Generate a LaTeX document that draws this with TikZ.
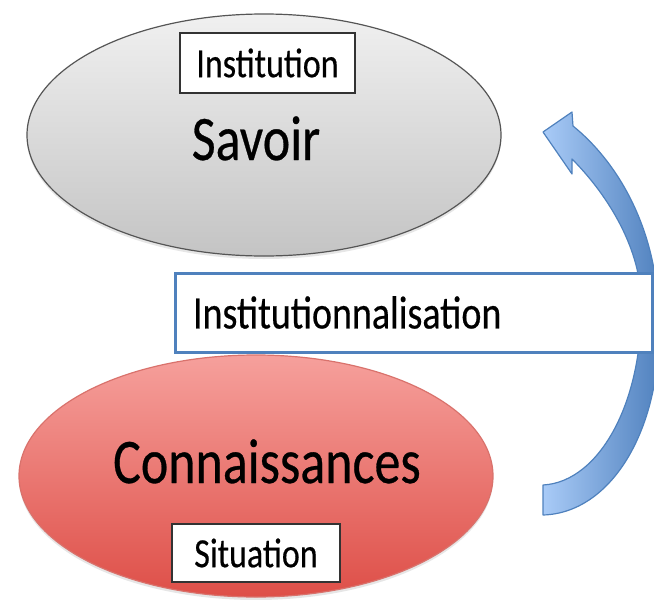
\documentclass[tikz,border=0pt]{standalone}
\usepackage{fontspec}
\setmainfont{Carlito}[FakeBold=0.5]
\usetikzlibrary{shapes.geometric,shadows,calc}
\definecolor{grayTop}{HTML}{F0F0F0}
\definecolor{grayBot}{HTML}{C4C4C4}
\definecolor{grayEdge}{HTML}{555555}
\definecolor{redTop}{HTML}{F6A09C}
\definecolor{redBot}{HTML}{DE4F48}
\definecolor{redEdge}{HTML}{D9726C}
\definecolor{blueEdge}{HTML}{4F81BD}
\definecolor{blueLight}{HTML}{A9CBF7}
\definecolor{blueDark}{HTML}{4A7CBA}
\tikzset{
  blob/.style={ellipse, inner sep=0pt, line width=1.2pt},
  tagbox/.style={draw=black!80, line width=1.5pt, fill=white, inner sep=0pt, font=\fontsize{34}{40}\selectfont},
  bigtext/.style={font=\fontsize{52}{60}\selectfont, inner sep=0pt, anchor=base},
}
\newcommand{\tall}[1]{\scalebox{1}[1.22]{#1}}
\begin{document}
\begin{tikzpicture}[x=1pt,y=-1pt]
\useasboundingbox (0,0) rectangle (654,600);
% ellipses
\node[blob, draw=grayEdge, top color=grayTop, bottom color=grayBot,
      minimum width=474, minimum height=242,
      drop shadow={opacity=0.2, shadow xshift=0pt, shadow yshift=-3pt}] (savoirE) at (264,135) {};
\node[blob, draw=redEdge, top color=redTop, bottom color=redBot,
      minimum width=474, minimum height=242,
      drop shadow={opacity=0.2, shadow xshift=0pt, shadow yshift=-3pt}] (connE) at (256,476) {};
% texts in ellipses
\node[bigtext] (savoir) at (256,160) {\tall{Savoir}};
\node[bigtext] (conn) at (267,483) {\tall{Connaissances}};
% curved block arrow
\coordinate (tailO) at (543,515);
\coordinate (tailI) at (543,485);
\coordinate (headO) at (573,126);
\coordinate (wingU) at (572,112);
\coordinate (tip) at (543,132);
\coordinate (wingL) at (572,174);
\coordinate (headI) at (572,159);
\path[draw=blueEdge, line width=1.2pt, left color=blueLight, right color=blueDark, line join=round]
  (tailO) .. controls (615,513) and (668,420) .. (658,300)
          .. controls (652,220) and (615,160) .. (headO)
  -- (wingU) -- (tip) -- (wingL) -- (headI)
          .. controls (605,192) and (640,245) .. (641,300)
          .. controls (644,400) and (600,482) .. (tailI)
  -- cycle;
% label box
\node[draw=blueEdge, line width=3pt, fill=white, minimum width=477, minimum height=79,
      text width=441, align=left, inner xsep=18pt, inner ysep=0pt,
      font=\fontsize{38}{44}\selectfont] (inst) at (413.5,312.5) {\tall{Institutionnalisation}};
% small boxes
\node[tagbox, minimum width=175, minimum height=60] (institution) at (267.5,63) {\tall{Institution}};
\node[tagbox, minimum width=168, minimum height=58] (situation) at (256,553) {\tall{Situation}};
\end{tikzpicture}
\end{document}
